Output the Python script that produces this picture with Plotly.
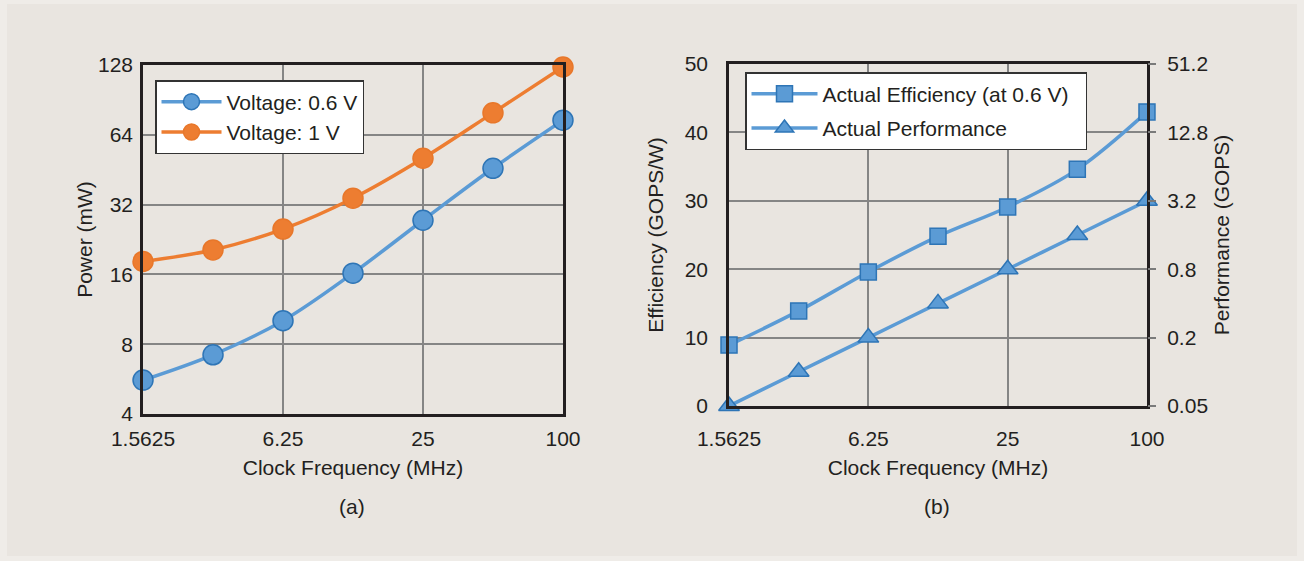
import math
import plotly.graph_objects as go

# ---- data ----
freq_mhz = [1.5625, 3.125, 6.25, 12.5, 25, 50, 100]
freq_ticks = [1.5625, 6.25, 25, 100]
freq_ticktext = ["1.5625", "6.25", "25", "100"]

power_06v = [5.6, 7.2, 10.1, 16.2, 27.4, 45.9, 74.0]
power_1v = [18.2, 20.4, 25.1, 34.1, 50.7, 79.6, 125.5]
power_ticks = [4, 8, 16, 32, 64, 128]

efficiency = [8.9, 13.9, 19.6, 24.8, 29.1, 34.6, 43.0]
performance = [0.05, 0.1, 0.2, 0.4, 0.8, 1.6, 3.2]
eff_ticks = [0, 10, 20, 30, 40, 50]
perf_ticks = [0.05, 0.2, 0.8, 3.2, 12.8, 51.2]
perf_ticktext = ["0.05", "0.2", "0.8", "3.2", "12.8", "51.2"]

# ---- style ----
W, H = 1304, 561
FONT = "Liberation Sans, Arial, sans-serif"
TXT = "#231f20"
BLUE = "#5b9bd5"
BLUE_EDGE = "#2e75b6"
ORANGE = "#ed7d31"
ORANGE_EDGE = "#e8772a"
GRID = "#858585"
FRAME = "#231f20"
FS = 21
EPS = 1e-4
NBSP = "\u00a0"


def px_x(p):
    return p / W


def px_y(p):
    return 1 - p / H


fig = go.Figure()

fig.add_trace(go.Scatter(
    x=freq_mhz, y=power_06v, name="Voltage: 0.6 V", mode="lines+markers",
    line=dict(color=BLUE, width=3.5, shape="spline"),
    marker=dict(symbol="circle", size=20, color=BLUE, line=dict(color=BLUE_EDGE, width=1.5)),
    xaxis="x", yaxis="y", legend="legend", legendgroup="a1", cliponaxis=False))
fig.add_trace(go.Scatter(
    x=freq_mhz, y=power_1v, name="Voltage: 1 V", mode="lines+markers",
    line=dict(color=ORANGE, width=3.5, shape="spline"),
    marker=dict(symbol="circle", size=20, color=ORANGE, line=dict(color=ORANGE_EDGE, width=1.5)),
    xaxis="x", yaxis="y", legend="legend", legendgroup="a2", cliponaxis=False))

fig.add_trace(go.Scatter(
    x=freq_mhz, y=efficiency, name="Actual Efficiency (at 0.6 V)" + NBSP * 2, mode="lines+markers",
    line=dict(color=BLUE, width=3.5, shape="spline"),
    marker=dict(symbol="square", size=16, color=BLUE, line=dict(color=BLUE_EDGE, width=1.5)),
    xaxis="x2", yaxis="y2", legend="legend2", legendgroup="b1", cliponaxis=False))
fig.add_trace(go.Scatter(
    x=freq_mhz, y=performance, name="Actual Performance", mode="lines+markers",
    line=dict(color=BLUE, width=3.5, shape="spline"),
    marker=dict(symbol="triangle-up", size=18, color=BLUE, line=dict(color=BLUE_EDGE, width=1.5)),
    xaxis="x2", yaxis="y3", legend="legend2", legendgroup="b2", cliponaxis=False))

common_x = dict(
    type="log", range=[math.log10(1.5625) - EPS, math.log10(100) + EPS],
    tickvals=freq_ticks, ticktext=freq_ticktext,
    showgrid=True, gridcolor=GRID, gridwidth=1.7,
    showline=True, linecolor=FRAME, linewidth=2.5, mirror=True,
    ticks="outside", tickcolor="rgba(0,0,0,0)",
    tickfont=dict(size=FS, color=TXT, family=FONT),
    title=dict(text="Clock Frequency (MHz)", font=dict(size=FS, color=TXT, family=FONT), standoff=12),
    zeroline=False, automargin=False,
)

fig.update_layout(
    width=W, height=H, autosize=False,
    margin=dict(l=0, r=0, t=0, b=0, autoexpand=False),
    paper_bgcolor="#efece8", plot_bgcolor="white",
    font=dict(family=FONT, size=FS, color=TXT),
    showlegend=True,
    xaxis=dict(common_x, domain=[px_x(143), px_x(563)], anchor="y", ticklen=4),
    yaxis=dict(
        type="log", range=[math.log10(4) - EPS, math.log10(128) + EPS],
        tickvals=power_ticks, ticktext=[str(v) for v in power_ticks],
        domain=[px_y(414), px_y(65)], anchor="x",
        showgrid=True, gridcolor=GRID, gridwidth=1.7,
        showline=True, linecolor=FRAME, linewidth=2.5, mirror=True,
        ticks="outside", ticklen=3, tickcolor="rgba(0,0,0,0)",
        tickfont=dict(size=FS, color=TXT, family=FONT),
        title=dict(text="Power (mW)", font=dict(size=FS, color=TXT, family=FONT), standoff=0),
        zeroline=False, automargin=False,
    ),
    xaxis2=dict(common_x, domain=[px_x(729), px_x(1147)], anchor="y2", ticklen=12),
    yaxis2=dict(
        range=[0 - 0.002, 50 + 0.002], tickvals=eff_ticks,
        domain=[px_y(406), px_y(64)], anchor="x2",
        showgrid=True, gridcolor=GRID, gridwidth=1.5,
        showline=True, linecolor=FRAME, linewidth=2.5, mirror=True,
        ticks="outside", ticklen=14, tickcolor="rgba(0,0,0,0)",
        tickfont=dict(size=FS, color=TXT, family=FONT),
        title=dict(text="Efficiency (GOPS/W)", font=dict(size=FS, color=TXT, family=FONT), standoff=16),
        zeroline=False, automargin=False,
    ),
    yaxis3=dict(
        type="log", range=[math.log10(0.05) - EPS, math.log10(51.2) + EPS],
        tickvals=perf_ticks, ticktext=perf_ticktext,
        overlaying="y2", side="right", anchor="x2",
        showgrid=False, showline=False,
        ticks="outside", ticklen=8, tickwidth=1.5, tickcolor="#7a7a7a",
        ticklabelstandoff=7,
        tickfont=dict(size=FS, color=TXT, family=FONT),
        title=dict(text="Performance (GOPS)", font=dict(size=FS, color=TXT, family=FONT), standoff=7),
        zeroline=False, automargin=False,
    ),
    legend=dict(
        x=px_x(155), y=px_y(80), xanchor="left", yanchor="top",
        bgcolor="white", bordercolor="#333333", borderwidth=1.5,
        font=dict(size=FS, color=TXT, family=FONT),
        itemwidth=60, traceorder="normal",
    ),
    legend2=dict(
        x=px_x(745), y=px_y(72), xanchor="left", yanchor="top",
        bgcolor="white", bordercolor="#333333", borderwidth=1.5,
        font=dict(size=FS, color=TXT, family=FONT),
        itemwidth=66, tracegroupgap=4, traceorder="grouped",
    ),
    shapes=[dict(type="rect", xref="paper", yref="paper",
                 x0=px_x(7), x1=px_x(1297), y0=px_y(556), y1=px_y(4),
                 fillcolor="#e9e5e0", line=dict(width=0), layer="below")],
    annotations=[
        dict(text="(a)", x=px_x(352), y=px_y(507), xref="paper", yref="paper",
             xanchor="center", yanchor="middle",
             showarrow=False, font=dict(size=FS, color=TXT, family=FONT)),
        dict(text="(b)", x=px_x(937), y=px_y(507), xref="paper", yref="paper",
             xanchor="center", yanchor="middle",
             showarrow=False, font=dict(size=FS, color=TXT, family=FONT)),
    ],
)

fig.write_html("out.html", config={"displayModeBar": False},
               post_script="document.body.style.margin='0';")
